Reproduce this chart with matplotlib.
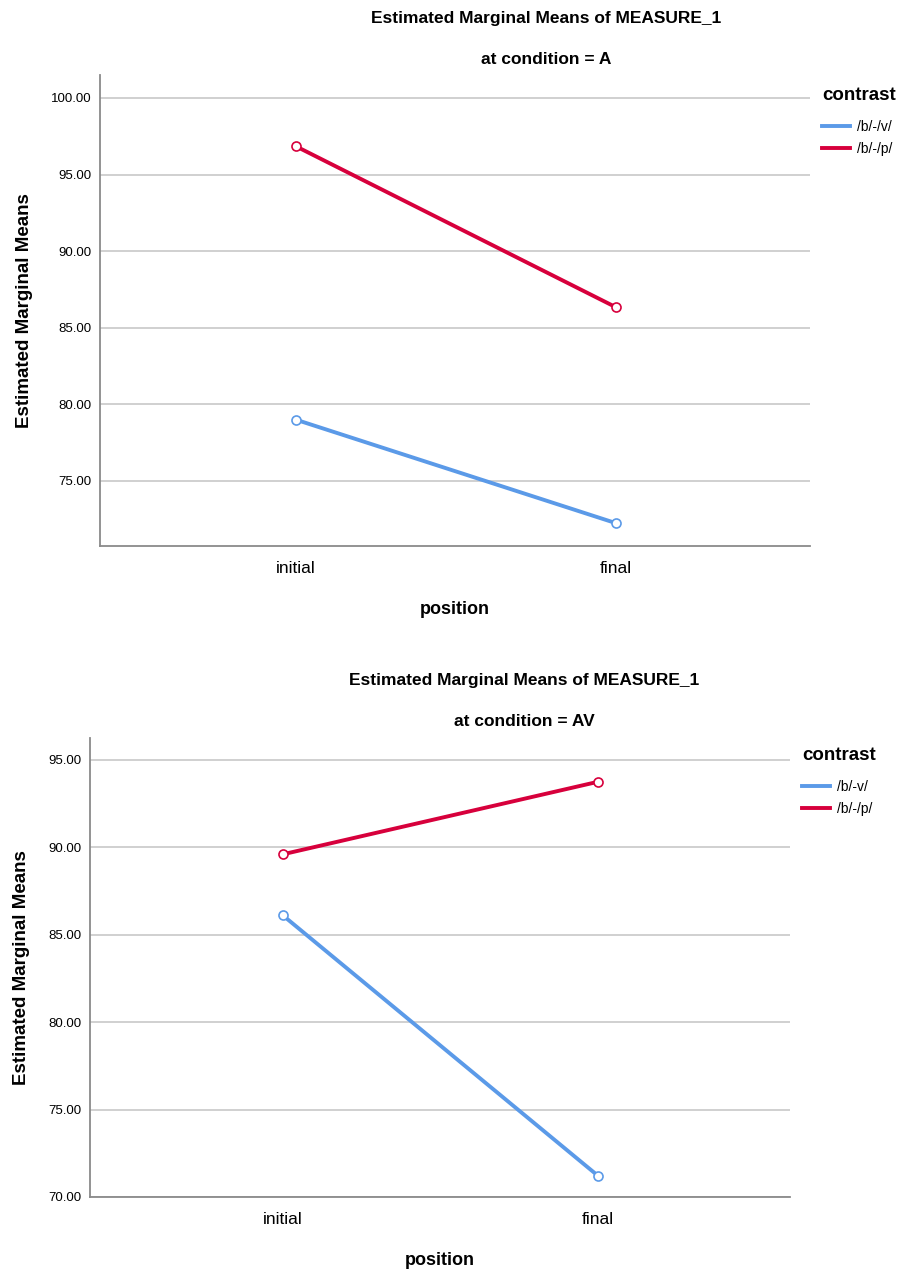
import matplotlib.pyplot as plt
from matplotlib.lines import Line2D

plt.rcParams['font.family'] = ['Liberation Sans', 'DejaVu Sans']

positions = ['initial', 'final']

# condition = A
a_bv = [79.0, 72.25]
a_bp = [96.85, 86.35]
# condition = AV
av_bv = [86.1, 71.2]
av_bp = [89.6, 93.75]

blue = '#5b9ae8'
red = '#d7003c'

fig = plt.figure(figsize=(9.08, 12.7), dpi=100)
W, H = 908, 1270


def panel(rect, bv, bp, yticks, ylim, labels, title2, title_x, leg_xy):
    l, t, r, b = rect
    ax = fig.add_axes([l / W, 1 - b / H, (r - l) / W, (b - t) / H])
    x = range(len(positions))
    ax.plot(x, bv, color=blue, lw=2.8, marker='o', ms=6.5, mfc='white',
            mec=blue, mew=1.2)
    ax.plot(x, bp, color=red, lw=2.8, marker='o', ms=6.5, mfc='white',
            mec=red, mew=1.2)
    ax.set_xlim(-0.612, 1.608)
    ax.set_ylim(*ylim)
    ax.set_xticks(list(x))
    ax.set_xticklabels(positions, fontsize=12.5)
    ax.set_yticks(yticks)
    ax.set_yticklabels(['%.2f' % v for v in yticks], fontsize=9.5)
    ax.tick_params(length=0, pad=6)
    ax.tick_params(axis='x', pad=11)
    ax.grid(axis='y', color='#c8c8c8', lw=1.2)
    ax.set_axisbelow(True)
    for s in ['top', 'right']:
        ax.spines[s].set_visible(False)
    for s in ['left', 'bottom']:
        ax.spines[s].set_color('#8a8a8a')
        ax.spines[s].set_linewidth(1.3)
    ax.set_xlabel('position', fontsize=13, fontweight='bold', labelpad=18)
    ax.set_ylabel('Estimated Marginal Means', fontsize=13.5, fontweight='bold', labelpad=13)
    fig.text(title_x / W, 1 - (t - 57) / H, 'Estimated Marginal Means of MEASURE_1',
             ha='center', va='center', fontsize=12.5, fontweight='bold')
    fig.text(title_x / W, 1 - (t - 16) / H, title2,
             ha='center', va='center', fontsize=12.5, fontweight='bold')

    # legend: title drawn apart so the gap below it matches
    fig.text(leg_xy[0] / W, 1 - leg_xy[1] / H, 'contrast', ha='left', va='center',
             fontsize=13.5, fontweight='bold')
    handles = [Line2D([], [], color=blue, lw=2.8), Line2D([], [], color=red, lw=2.8)]
    ax.legend(handles, labels, loc='upper left',
              bbox_to_anchor=(leg_xy[0] / W, 1 - (leg_xy[1] + 24) / H),
              bbox_transform=fig.transFigure, frameon=False,
              fontsize=10, handlelength=2.0, handletextpad=0.5,
              labelspacing=0.6, borderaxespad=0, borderpad=0)
    return ax


panel((100, 75, 810, 546), a_bv, a_bp, [75, 80, 85, 90, 95, 100], (70.75, 101.5),
      ['/b/-/v/', '/b/-/p/'], 'at condition = A', 546, (822, 96))
panel((90, 738, 790, 1197), av_bv, av_bp, [70, 75, 80, 85, 90, 95], (70.0, 96.25),
      ['/b/-v/', '/b/-/p/'], 'at condition = AV', 524, (802, 756))

fig.savefig('out.png', dpi=100)
